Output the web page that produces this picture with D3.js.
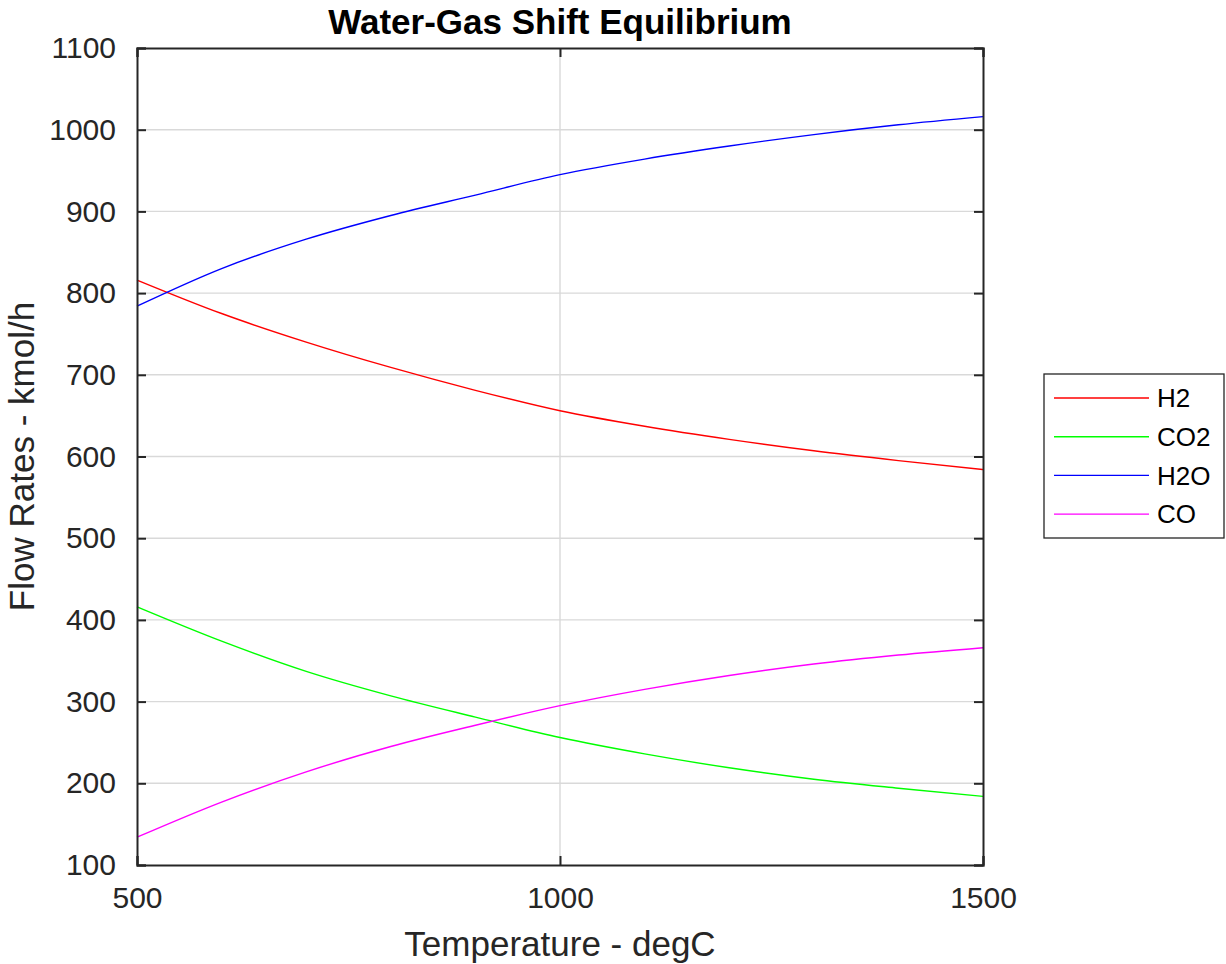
<!DOCTYPE html>
<html>
<head>
<meta charset="utf-8">
<script src="https://cdn.jsdelivr.net/npm/d3@7"></script>
<style>
  body { margin: 0; background: #fff; }
  svg { font-family: "Liberation Sans", Arial, sans-serif; }
</style>
</head>
<body>
<div id="chart"></div>
<script>
// temperatures (degC) and flow rates (kmol/h)
const temps = [500, 600, 700, 800, 900, 1000, 1100, 1200, 1300, 1400, 1500];
const h2  = [816, 775, 740, 709, 681, 656, 637, 621, 607, 595, 584];
const co2 = [416, 374, 337, 307, 281, 256, 236, 219, 205, 194, 184];
const h2o = [784, 830, 866, 895, 920, 945, 964, 980, 994, 1006, 1016];
const co  = [134, 177, 214, 245, 271, 295, 315, 332, 346, 357, 366];

const seriesNames = ["H2", "CO2", "H2O", "CO"];
const seriesColors = ["#ff0000", "#00ff00", "#0000ff", "#ff00ff"];
const xTicks = [500, 1000, 1500];
const yTicks = [100, 200, 300, 400, 500, 600, 700, 800, 900, 1000, 1100];

const W = 1226, H = 964;
const margin = { top: 48, right: 243, bottom: 99, left: 137 };
const width = W - margin.left - margin.right;
const height = H - margin.top - margin.bottom;
const ink = "#262626";

const svg = d3.select("#chart")
  .append("svg")
  .attr("width", W)
  .attr("height", H);

const g = svg.append("g")
  .attr("transform", `translate(${margin.left},${margin.top})`);

const x = d3.scaleLinear().domain([500, 1500]).range([0, width]);
const y = d3.scaleLinear().domain([100, 1100]).range([height, 0]);

// grid
g.append("g")
  .selectAll("line")
  .data(yTicks.slice(1, -1))
  .enter().append("line")
  .attr("x1", 0).attr("x2", width)
  .attr("y1", d => y(d)).attr("y2", d => y(d))
  .attr("stroke", "#d9d9d9").attr("stroke-width", 1.4);

g.append("g")
  .selectAll("line")
  .data(xTicks.slice(1, -1))
  .enter().append("line")
  .attr("y1", 0).attr("y2", height)
  .attr("x1", d => x(d)).attr("x2", d => x(d))
  .attr("stroke", "#d9d9d9").attr("stroke-width", 1.4);

// lines
const allSeries = [h2, co2, h2o, co];
const line = d3.line()
  .x((d, i) => x(temps[i]))
  .y(d => y(d))
  .curve(d3.curveMonotoneX);

allSeries.forEach((vals, i) => {
  g.append("path")
    .datum(vals)
    .attr("fill", "none")
    .attr("stroke", seriesColors[i])
    .attr("stroke-width", 1.4)
    .attr("d", line);
});

// axes (ticks inside, box all round)
const tickLen = 9;
const fmt = d3.format("d");
const axisL = g.append("g")
  .call(d3.axisLeft(y).tickValues(yTicks).tickFormat(fmt).tickSize(-tickLen).tickPadding(tickLen + 12));
const axisR = g.append("g")
  .attr("transform", `translate(${width},0)`)
  .call(d3.axisRight(y).tickValues(yTicks).tickSize(-tickLen).tickFormat(""));
const axisB = g.append("g")
  .attr("transform", `translate(0,${height})`)
  .call(d3.axisBottom(x).tickValues(xTicks).tickFormat(fmt).tickSize(-tickLen).tickPadding(tickLen + 13));
const axisT = g.append("g")
  .call(d3.axisTop(x).tickValues(xTicks).tickSize(-tickLen).tickFormat(""));

[axisL, axisR, axisB, axisT].forEach(a => {
  a.select(".domain").attr("stroke", ink).attr("stroke-width", 2);
  a.selectAll(".tick line").attr("stroke", ink).attr("stroke-width", 2);
  a.selectAll(".tick text")
    .attr("fill", ink)
    .style("font-size", "30px")
    .style("font-family", "'Liberation Sans', Arial, sans-serif");
});

// titles
svg.append("text")
  .attr("x", margin.left + width / 2)
  .attr("y", 34)
  .attr("text-anchor", "middle")
  .style("font-size", "35px")
  .style("font-weight", "bold")
  .attr("fill", "#000")
  .text("Water-Gas Shift Equilibrium");

svg.append("text")
  .attr("x", margin.left + width / 2)
  .attr("y", 956)
  .attr("text-anchor", "middle")
  .style("font-size", "35px")
  .attr("fill", ink)
  .text("Temperature - degC");

svg.append("text")
  .attr("transform", `translate(34,${margin.top + height / 2}) rotate(-90)`)
  .attr("text-anchor", "middle")
  .style("font-size", "35px")
  .attr("fill", ink)
  .text("Flow Rates - kmol/h");

// legend
const legend = svg.append("g").attr("transform", "translate(1044,374)");
legend.append("rect")
  .attr("width", 180).attr("height", 164)
  .attr("fill", "#fff")
  .attr("stroke", ink).attr("stroke-width", 1.3);

const rows = legend.selectAll("g.row")
  .data(seriesNames)
  .enter().append("g")
  .attr("class", "row")
  .attr("transform", (d, i) => `translate(0,${24 + i * 38.7})`);

rows.append("line")
  .attr("x1", 10).attr("x2", 105)
  .attr("stroke", (d, i) => seriesColors[i])
  .attr("stroke-width", 1.4);

rows.append("text")
  .attr("x", 113)
  .attr("dy", "0.35em")
  .style("font-size", "26px")
  .attr("fill", "#000")
  .text(d => d);
</script>
</body>
</html>
